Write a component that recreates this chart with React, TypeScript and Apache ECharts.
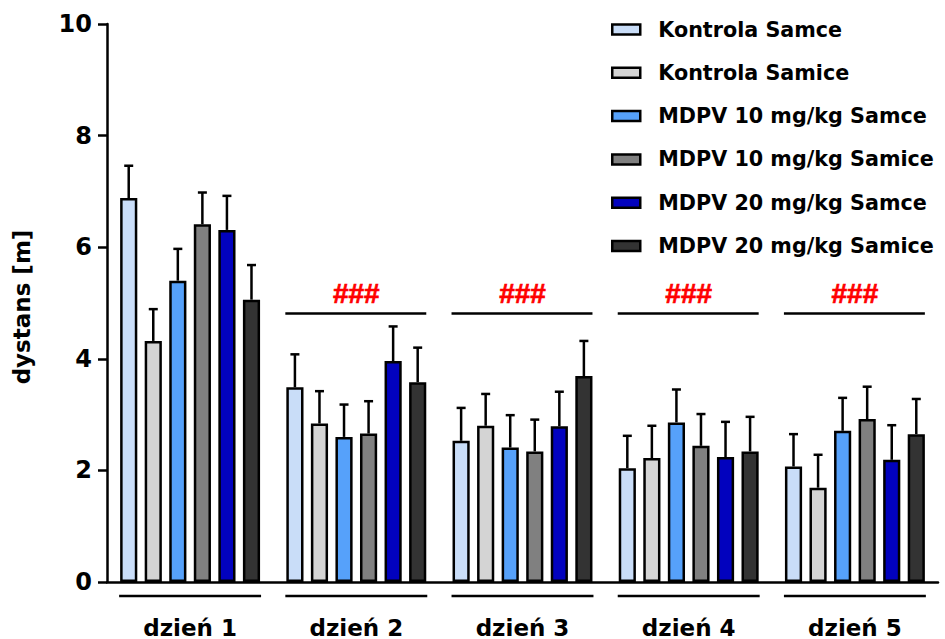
import React, { useEffect, useRef } from "react";
import * as echarts from "echarts";

const categories = ["dzień 1", "dzień 2", "dzień 3", "dzień 4", "dzień 5"];
const seriesNames = [
  "Kontrola Samce",
  "Kontrola Samice",
  "MDPV 10 mg/kg Samce",
  "MDPV 10 mg/kg Samice",
  "MDPV 20 mg/kg Samce",
  "MDPV 20 mg/kg Samice",
];
const seriesColors = ["#C9DDF8", "#D4D4D4", "#56A1FA", "#808080", "#0202BE", "#333333"];

const kontrolaSamce = [6.88, 3.49, 2.53, 2.04, 2.07];
const kontrolaSamceSem = [0.58, 0.59, 0.59, 0.58, 0.58];
const kontrolaSamice = [4.32, 2.84, 2.8, 2.22, 1.69];
const kontrolaSamiceSem = [0.57, 0.58, 0.57, 0.58, 0.59];
const mdpv10Samce = [5.4, 2.6, 2.41, 2.86, 2.71];
const mdpv10SamceSem = [0.57, 0.58, 0.58, 0.59, 0.59];
const mdpv10Samice = [6.41, 2.66, 2.34, 2.44, 2.92];
const mdpv10SamiceSem = [0.57, 0.58, 0.57, 0.57, 0.58];
const mdpv20Samce = [6.31, 3.96, 2.79, 2.24, 2.19];
const mdpv20SamceSem = [0.61, 0.62, 0.62, 0.63, 0.62];
const mdpv20Samice = [5.06, 3.58, 3.69, 2.34, 2.65];
const mdpv20SamiceSem = [0.62, 0.62, 0.63, 0.62, 0.63];

const means = [kontrolaSamce, kontrolaSamice, mdpv10Samce, mdpv10Samice, mdpv20Samce, mdpv20Samice];
const sems = [kontrolaSamceSem, kontrolaSamiceSem, mdpv10SamceSem, mdpv10SamiceSem, mdpv20SamceSem, mdpv20SamiceSem];

const sigDays = [1, 2, 3, 4];
const sigLevel = 4.81;
const sigLabel = "###";

const yTicks = [0, 2, 4, 6, 8, 10];

const FONT = "DejaVu Sans";
const CAT_GAP = 0.158;
const BAR_GAP = 0.43;
const N = seriesNames.length;

function groupGeom(api: any) {
  const bandW = api.size([1, 0])[0];
  const groupW = bandW * (1 - CAT_GAP);
  const w = groupW / (N + (N - 1) * BAR_GAP);
  return { groupW, w };
}

export default function App() {
  const ref = useRef<HTMLDivElement>(null);
  useEffect(() => {
    if (!ref.current) return;
    const chart = echarts.init(ref.current, null, { renderer: "svg" });

    const barSeries = seriesNames.map((name, k) => ({
      name,
      type: "bar",
      data: means[k],
      barGap: `${BAR_GAP * 100}%`,
      barCategoryGap: `${CAT_GAP * 100}%`,
      itemStyle: { color: seriesColors[k], borderColor: "#000", borderWidth: 2.5 },
      z: 3,
    }));

    const errSeries = seriesNames.map((name, k) => ({
      name: name + " SEM",
      type: "custom",
      z: 2,
      data: means[k].map((m, i) => [i, m, sems[k][i]]),
      encode: { x: 0, y: 1 },
      renderItem: (params: any, api: any) => {
        const cat = api.value(0);
        const mean = api.value(1);
        const sem = api.value(2);
        const base = api.coord([cat, mean]);
        const top = api.coord([cat, mean + sem]);
        const { groupW, w } = groupGeom(api);
        const x = base[0] - groupW / 2 + k * w * (1 + BAR_GAP) + w / 2;
        const cap = 4.5;
        return {
          type: "group",
          children: [
            { type: "line", shape: { x1: x, y1: base[1], x2: x, y2: top[1] }, style: { stroke: "#000", lineWidth: 2.5 } },
            { type: "line", shape: { x1: x - cap, y1: top[1], x2: x + cap, y2: top[1] }, style: { stroke: "#000", lineWidth: 2.5 } },
          ],
        };
      },
    }));

    const sigSeries = {
      name: "sig",
      type: "custom",
      z: 4,
      data: sigDays.map((d) => [d, sigLevel]),
      encode: { x: 0, y: 1 },
      renderItem: (params: any, api: any) => {
        const p = api.coord([api.value(0), api.value(1)]);
        const { groupW } = groupGeom(api);
        return {
          type: "group",
          children: [
            { type: "line", shape: { x1: p[0] - groupW / 2 - 1, y1: p[1], x2: p[0] + groupW / 2, y2: p[1] }, style: { stroke: "#000", lineWidth: 2.5 } },
            {
              type: "text",
              style: {
                x: p[0],
                y: p[1] - 20,
                text: sigLabel,
                fill: "#FF0000",
                stroke: "#FF0000",
                lineWidth: 0.7,
                font: `bold 28px "Liberation Sans"`,
                align: "center",
                verticalAlign: "middle",
              },
            },
          ],
        };
      },
    };

    const bracketSeries = {
      name: "bracket",
      type: "custom",
      z: 4,
      clip: false,
      data: categories.map((c, i) => [i, 0]),
      encode: { x: 0, y: 1 },
      renderItem: (params: any, api: any) => {
        const p = api.coord([api.value(0), api.value(1)]);
        const { groupW } = groupGeom(api);
        return {
          type: "line",
          shape: { x1: p[0] - groupW / 2 - 1, y1: p[1] + 14, x2: p[0] + groupW / 2 + 1, y2: p[1] + 14 },
          style: { stroke: "#000", lineWidth: 2.5 },
        };
      },
    };

    chart.setOption({
      animation: false,
      textStyle: { fontFamily: FONT },
      grid: { left: 107, right: 7, top: 24, bottom: 57, containLabel: false },
      legend: {
        data: seriesNames,
        orient: "vertical",
        left: 606,
        top: 14,
        icon: "rect",
        itemWidth: 28,
        itemHeight: 10,
        itemGap: 22.3,
        itemStyle: { borderColor: "#000", borderWidth: 2.5 },
        textStyle: { fontFamily: FONT, fontSize: 20.7, fontWeight: "bold", color: "#000", padding: [0, 0, 0, 13] },
      },
      xAxis: {
        type: "category",
        data: categories,
        axisLine: { lineStyle: { color: "#000", width: 2.5 } },
        axisTick: { show: false },
        axisLabel: { fontFamily: FONT, fontSize: 23, fontWeight: "bold", color: "#000", margin: 34 },
      },
      yAxis: {
        type: "value",
        min: yTicks[0],
        max: yTicks[yTicks.length - 1],
        interval: yTicks[1] - yTicks[0],
        name: "dystans [m]",
        nameLocation: "middle",
        nameGap: 74,
        nameTextStyle: { fontFamily: FONT, fontSize: 23, fontWeight: "bold", color: "#000", padding: [0, 8, 0, 0] },
        axisLine: { show: true, lineStyle: { color: "#000", width: 2.5 } },
        axisTick: { show: true, length: 9, lineStyle: { color: "#000", width: 2.5 } },
        axisLabel: { fontFamily: FONT, fontSize: 24, fontWeight: "bold", color: "#000", margin: 15 },
        splitLine: { show: false },
      },
      series: [...barSeries, ...errSeries, sigSeries, bracketSeries],
    });
    return () => chart.dispose();
  }, []);
  return <div ref={ref} style={{ position: "fixed", left: 0, top: 0, width: 945, height: 639, background: "#fff" }} />;
}
